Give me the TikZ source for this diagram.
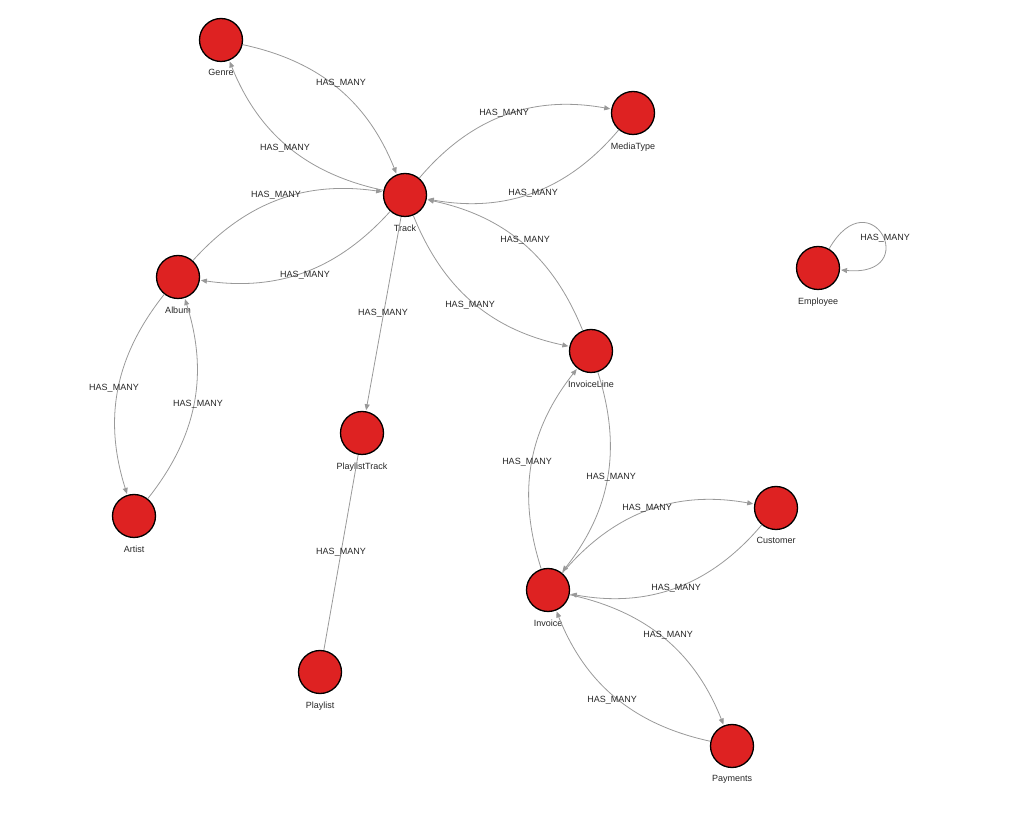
\documentclass[tikz,border=0pt]{standalone}
\usepackage{fontspec}
\setmainfont{Liberation Sans}
\usetikzlibrary{arrows.meta}
\begin{document}
\begin{tikzpicture}[x=1pt,y=1pt,
  ent/.style={circle,draw=black,line width=1.3pt,fill={rgb,255:red,222;green,34;blue,34},minimum size=43pt,inner sep=0pt},
  nm/.style={font=\fontsize{9}{10}\selectfont,text=black!85},
  lab/.style={font=\fontsize{9}{10}\selectfont,text=black!85},
  rel/.style={draw=black!40,line width=0.8pt,-{Triangle[length=6pt,width=5pt]},shorten >=1pt}]
\useasboundingbox (0,0) rectangle (1024,832);
\def\P(#1,#2){(#1,832-#2)}
\node[ent] (genre) at (221,792) {};
\node[ent] (media) at (633,719) {};
\node[ent] (track) at (405,637) {};
\node[ent] (album) at (178,555) {};
\node[ent] (emp) at (818,564) {};
\node[ent] (iline) at (591,481) {};
\node[ent] (ptrack) at (362,399) {};
\node[ent] (artist) at (134,316) {};
\node[ent] (cust) at (776,324) {};
\node[ent] (inv) at (548,242) {};
\node[ent] (plist) at (320,160) {};
\node[ent] (pay) at (732,86) {};
\foreach \n/\t in {genre/Genre,media/MediaType,track/Track,album/Album,emp/Employee,iline/InvoiceLine,ptrack/PlaylistTrack,artist/Artist,cust/Customer,inv/Invoice,plist/Playlist,pay/Payments}
  \node[nm,anchor=north] (\n-l) at ([yshift=-4pt]\n.south) {\t};
\begin{scope}[on background layer/.style={}]
\draw[rel] (genre) to[bend left=28] (track);
\draw[rel] (track) to[bend left=28] (genre);
\draw[rel] (track) to[bend left=30] (media);
\draw[rel] (media) to[bend left=30] (track);
\draw[rel] (track) to[bend left=28] (album);
\draw[rel] (album) to[bend left=28] (track);
\draw[rel] (track) to[bend right=28] (iline);
\draw[rel] (iline) to[bend right=28] (track);
\draw[rel] (track) -- (ptrack);
\draw[draw=black!40,line width=0.8pt] (plist) -- (ptrack);
\draw[rel] (album) to[bend right=28] (artist);
\draw[rel] (artist) to[bend right=28] (album);
\draw[rel] (iline) to[bend left=28] (inv);
\draw[rel] (inv) to[bend left=28] (iline);
\draw[rel] (inv) to[bend left=30] (cust);
\draw[rel] (cust) to[bend left=30] (inv);
\draw[rel] (inv) to[bend left=28] (pay);
\draw[rel] (pay) to[bend left=28] (inv);
\draw[rel] (emp) to[out=60,in=-5,looseness=9] (emp);
\end{scope}
\node[lab] (l1) at (341,749) {HAS\_MANY};
\node[lab] (l2) at (285,684) {HAS\_MANY};
\node[lab] (l3) at (504,719) {HAS\_MANY};
\node[lab] (l4) at (533,639) {HAS\_MANY};
\node[lab] (l5) at (276,637) {HAS\_MANY};
\node[lab] (l6) at (305,557) {HAS\_MANY};
\node[lab] (l7) at (525,592) {HAS\_MANY};
\node[lab] (l8) at (470,527) {HAS\_MANY};
\node[lab] (l9) at (383,519) {HAS\_MANY};
\node[lab] (l10) at (341,280) {HAS\_MANY};
\node[lab] (l11) at (114,444) {HAS\_MANY};
\node[lab] (l12) at (198,428) {HAS\_MANY};
\node[lab] (l13) at (527,370) {HAS\_MANY};
\node[lab] (l14) at (611,355) {HAS\_MANY};
\node[lab] (l15) at (647,324) {HAS\_MANY};
\node[lab] (l16) at (676,244) {HAS\_MANY};
\node[lab] (l17) at (668,197) {HAS\_MANY};
\node[lab] (l18) at (612,132) {HAS\_MANY};
\node[lab] (l19) at (885,594) {HAS\_MANY};
\end{tikzpicture}
\end{document}
